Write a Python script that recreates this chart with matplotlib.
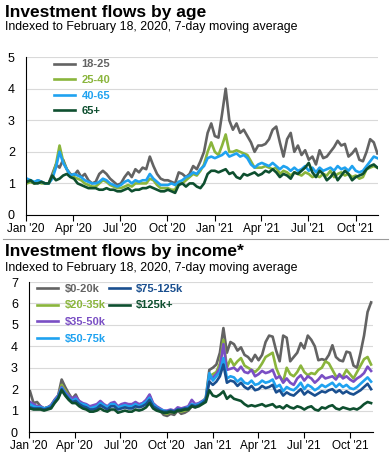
import pandas as pd
import matplotlib
matplotlib.use("Agg")
import matplotlib.pyplot as plt
from matplotlib.lines import Line2D

plt.rcParams['font.family'] = ['Liberation Sans', 'DejaVu Sans']

# weekly points, Jan 3 2020 .. Nov 12 2021
dates = pd.date_range("2020-01-03", periods=98, freq="7D")
tick_dates = pd.date_range("2020-01-01", "2021-10-01", freq="QS")
tick_labels = ["Jan '20", "Apr '20", "Jul '20", "Oct '20",
               "Jan '21", "Apr '21", "Jul '21", "Oct '21"]

# --- by age ---
age_labels = ["18-25", "25-40", "40-65", "65+"]
age_18_25 = [1.1, 1.05, 1.0, 1.1, 1.05, 1.0, 1.0, 1.3, 1.6, 1.5, 1.75, 1.45, 1.3,
             1.25, 1.4, 1.2, 1.3, 1.1, 1.0, 1.05, 1.3, 1.4, 1.3, 1.15, 1.05, 0.95,
             1.0, 1.2, 1.35, 1.2, 1.45, 1.35, 1.5, 1.45, 1.85, 1.55, 1.3, 1.15, 1.1,
             1.1, 1.05, 1.0, 1.35, 1.3, 1.2, 1.3, 1.55, 1.45, 1.7, 2.0, 2.6, 2.9,
             2.5, 2.45, 3.2, 4.0, 3.0, 2.7, 2.9, 2.6, 2.7, 2.5, 2.3, 2.0, 2.2,
             2.2, 2.25, 2.4, 2.7, 2.8, 2.3, 1.85, 2.4, 2.6, 2.0, 2.2, 1.9, 2.05,
             1.75, 1.85, 1.6, 2.05, 1.8, 1.85, 2.0, 2.15, 2.35, 2.2, 2.25, 1.85, 1.95,
             2.1, 1.75, 1.7, 2.0, 2.4, 2.3, 1.95]
age_25_40 = [1.0, 1.05, 1.0, 1.05, 1.0, 1.0, 1.0, 1.2, 1.6, 2.2, 1.7, 1.45, 1.25,
             1.2, 1.15, 1.1, 1.0, 0.95, 0.9, 0.9, 1.0, 1.1, 1.05, 0.95, 0.9, 0.85,
             0.85, 0.9, 0.95, 0.9, 1.0, 1.0, 1.0, 1.0, 1.15, 1.1, 0.95, 0.85, 0.85,
             0.85, 0.8, 0.8, 1.05, 1.0, 1.1, 1.2, 1.3, 1.25, 1.4, 1.6, 2.0, 2.3,
             2.0, 1.9, 2.2, 2.55, 2.0, 2.0, 2.05, 2.0, 1.95, 1.9, 1.7, 1.5, 1.5,
             1.5, 1.55, 1.5, 1.45, 1.5, 1.3, 1.4, 1.35, 1.25, 1.35, 1.3, 1.25, 1.35,
             1.3, 1.2, 1.25, 1.2, 1.3, 1.25, 1.4, 1.2, 1.3, 1.35, 1.25, 1.3, 1.2,
             1.25, 1.15, 1.2, 1.45, 1.5, 1.55, 1.5]
age_40_65 = [1.15, 1.1, 1.05, 1.1, 1.05, 1.0, 1.0, 1.15, 1.5, 2.0, 1.65, 1.45, 1.25,
             1.3, 1.25, 1.2, 1.1, 1.05, 1.0, 1.0, 1.05, 1.15, 1.1, 1.0, 0.95, 0.9,
             0.95, 1.05, 1.1, 1.0, 1.1, 1.05, 1.1, 1.1, 1.3, 1.15, 1.05, 0.95, 0.95,
             0.95, 1.0, 0.95, 1.05, 1.1, 1.2, 1.25, 1.35, 1.3, 1.45, 1.55, 1.8, 1.85,
             1.8, 1.85, 1.9, 2.0, 1.85, 1.9, 1.95, 1.85, 1.9, 1.8, 1.6, 1.5, 1.6,
             1.65, 1.6, 1.55, 1.65, 1.55, 1.45, 1.55, 1.5, 1.4, 1.5, 1.4, 1.45, 1.55,
             1.4, 1.5, 1.35, 1.5, 1.4, 1.45, 1.5, 1.4, 1.55, 1.45, 1.5, 1.4, 1.55,
             1.4, 1.35, 1.4, 1.55, 1.7, 1.85, 1.8]
age_65 = [1.05, 1.1, 1.0, 1.0, 1.05, 1.0, 1.0, 1.25, 1.1, 1.15, 1.25, 1.3, 1.2,
          1.15, 1.0, 0.95, 0.9, 0.85, 0.85, 0.85, 0.8, 0.8, 0.85, 0.8, 0.8, 0.75,
          0.75, 0.8, 0.85, 0.75, 0.8, 0.8, 0.85, 0.85, 0.9, 0.85, 0.8, 0.75, 0.75,
          0.8, 0.75, 0.7, 0.95, 1.0, 0.9, 1.0, 1.0, 0.9, 0.85, 1.0, 1.3, 1.4,
          1.4, 1.35, 1.4, 1.45, 1.3, 1.35, 1.2, 1.15, 1.3, 1.25, 1.3, 1.35, 1.25,
          1.3, 1.4, 1.35, 1.45, 1.35, 1.2, 1.3, 1.25, 1.15, 1.35, 1.3, 1.4, 1.5,
          1.65, 1.35, 1.2, 1.4, 1.3, 1.1, 1.2, 1.35, 1.1, 1.25, 1.4, 1.3, 1.1,
          1.2, 1.25, 1.3, 1.45, 1.55, 1.6, 1.5]
age_colors = ["#636363", "#8ab53c", "#1fa2f0", "#0e4f2f"]

# --- by income ---
inc_labels = ["$0-20k", "$20-35k", "$35-50k", "$50-75k", "$75-125k", "$125k+"]
inc_0_20 = [1.9, 1.35, 1.4, 1.2, 1.1, 1.15, 1.25, 1.5, 1.7, 2.45, 2.1, 1.8, 1.55,
            1.75, 1.4, 1.3, 1.25, 1.1, 1.15, 1.2, 1.35, 1.2, 1.1, 1.3, 1.35, 1.1,
            1.2, 1.3, 1.15, 1.2, 1.35, 1.25, 1.3, 1.45, 1.7, 1.3, 1.15, 1.0, 0.8,
            0.75, 0.85, 0.8, 1.0, 0.85, 0.9, 1.0, 1.2, 1.15, 1.3, 1.4, 1.6, 2.9,
            3.0, 3.15, 3.7, 4.85, 3.7, 4.2, 4.1, 3.8, 3.95, 3.6, 3.5, 3.3, 3.6,
            3.35, 3.6, 4.2, 4.5, 4.45, 3.8, 3.3, 4.5, 4.4, 3.3, 3.5, 3.7, 4.15,
            3.9, 4.5, 4.3, 4.0, 3.35, 3.4, 3.35, 3.6, 4.05, 3.5, 3.35, 3.3, 3.75,
            3.7, 3.1, 3.0, 3.7, 4.5, 5.6, 6.05]
inc_20_35 = [1.25, 1.2, 1.15, 1.15, 1.1, 1.15, 1.2, 1.45, 1.65, 2.2, 1.95, 1.7, 1.5,
             1.6, 1.35, 1.25, 1.2, 1.05, 1.1, 1.15, 1.3, 1.2, 1.1, 1.25, 1.3, 1.1,
             1.2, 1.25, 1.15, 1.15, 1.3, 1.2, 1.25, 1.35, 1.6, 1.25, 1.1, 1.0, 0.9,
             0.85, 0.95, 0.9, 1.05, 0.95, 1.0, 1.05, 1.25, 1.2, 1.3, 1.4, 1.55, 2.6,
             2.7, 2.8, 3.2, 4.3, 3.0, 3.4, 3.1, 3.3, 3.45, 3.1, 3.0, 2.9, 2.8,
             2.95, 3.2, 3.5, 3.6, 3.7, 3.0, 2.6, 2.35, 3.0, 2.7, 2.6, 2.8, 3.1,
             2.8, 2.65, 2.75, 2.7, 2.9, 3.0, 3.3, 3.2, 2.9, 2.6, 2.6, 2.6, 2.9,
             2.7, 2.5, 2.8, 3.1, 3.4, 3.5, 3.15]
inc_35_50 = [1.4, 1.3, 1.2, 1.2, 1.1, 1.15, 1.25, 1.5, 1.7, 2.1, 1.85, 1.7, 1.55,
             1.65, 1.45, 1.35, 1.3, 1.2, 1.25, 1.3, 1.45, 1.3, 1.2, 1.35, 1.4, 1.2,
             1.3, 1.35, 1.3, 1.3, 1.4, 1.3, 1.35, 1.5, 1.75, 1.35, 1.2, 1.1, 1.0,
             1.0, 1.05, 1.0, 1.15, 1.1, 1.15, 1.2, 1.5, 1.3, 1.35, 1.45, 1.5, 2.5,
             2.55, 2.7, 3.0, 4.1, 2.9, 2.95, 3.0, 2.85, 3.05, 2.8, 2.75, 2.9, 2.6,
             2.7, 2.85, 2.75, 2.8, 2.9, 2.5, 2.6, 2.3, 2.5, 2.3, 2.2, 2.5, 2.65,
             2.4, 2.6, 2.5, 2.3, 2.45, 2.65, 2.5, 2.55, 2.6, 2.45, 2.7, 2.5, 2.6,
             2.45, 2.35, 2.5, 2.6, 2.75, 3.05, 2.85]
inc_50_75 = [1.3, 1.2, 1.15, 1.15, 1.1, 1.15, 1.2, 1.45, 1.65, 2.05, 1.8, 1.6, 1.45,
             1.55, 1.35, 1.3, 1.25, 1.1, 1.15, 1.2, 1.35, 1.25, 1.15, 1.3, 1.3, 1.15,
             1.2, 1.25, 1.2, 1.2, 1.3, 1.2, 1.3, 1.4, 1.6, 1.3, 1.15, 1.05, 1.0,
             0.95, 1.0, 0.95, 1.05, 1.05, 1.1, 1.15, 1.3, 1.25, 1.3, 1.4, 1.55, 2.75,
             2.4, 2.6, 2.8, 3.45, 2.5, 2.6, 2.55, 2.35, 2.5, 2.3, 2.25, 2.4, 2.2,
             2.25, 2.4, 2.3, 2.35, 2.45, 2.1, 2.2, 1.9, 2.1, 2.0, 1.95, 2.1, 2.3,
             2.0, 2.2, 2.1, 1.95, 2.05, 2.2, 2.1, 2.2, 2.3, 2.1, 2.25, 2.1, 2.2,
             2.05, 2.0, 2.1, 2.25, 2.4, 2.55, 2.35]
inc_75_125 = [1.15, 1.1, 1.1, 1.1, 1.05, 1.1, 1.15, 1.4, 1.6, 2.0, 1.75, 1.55, 1.4,
              1.45, 1.3, 1.2, 1.15, 1.05, 1.05, 1.1, 1.25, 1.15, 1.05, 1.2, 1.2, 1.05,
              1.1, 1.15, 1.1, 1.1, 1.2, 1.15, 1.2, 1.3, 1.5, 1.2, 1.1, 1.0, 0.95,
              0.95, 1.0, 0.95, 1.05, 1.05, 1.1, 1.1, 1.25, 1.2, 1.25, 1.35, 1.5, 2.35,
              2.2, 2.35, 2.6, 3.15, 2.3, 2.4, 2.35, 2.15, 2.3, 2.1, 2.0, 2.15, 1.95,
              2.0, 2.15, 2.05, 2.1, 2.2, 1.85, 1.95, 1.7, 1.85, 1.75, 1.7, 1.85, 2.0,
              1.75, 1.9, 1.8, 1.7, 1.8, 1.9, 1.85, 1.95, 2.0, 1.85, 1.95, 1.8, 1.9,
              1.8, 1.75, 1.85, 1.95, 2.1, 2.25, 2.0]
inc_125 = [1.1, 1.05, 1.05, 1.05, 1.0, 1.05, 1.1, 1.35, 1.55, 1.95, 1.7, 1.5, 1.35,
           1.35, 1.2, 1.1, 1.05, 0.95, 0.95, 1.0, 1.1, 1.0, 0.95, 1.05, 1.05, 0.9,
           0.95, 1.0, 0.95, 0.95, 1.05, 1.0, 1.05, 1.15, 1.35, 1.1, 1.0, 0.95, 0.9,
           0.9, 0.95, 0.9, 1.0, 1.0, 1.05, 1.05, 1.2, 1.15, 1.2, 1.3, 1.4, 1.95,
           1.7, 1.65, 1.75, 1.9, 1.55, 1.7, 1.55, 1.5, 1.45, 1.3, 1.2, 1.25, 1.2,
           1.25, 1.3, 1.2, 1.25, 1.3, 1.15, 1.2, 1.1, 1.25, 1.15, 1.1, 1.2, 1.15,
           1.05, 1.15, 1.2, 1.05, 1.0, 1.15, 1.1, 1.2, 1.25, 1.1, 1.05, 1.15, 1.1,
           1.05, 1.1, 1.05, 1.15, 1.3, 1.4, 1.35]
inc_colors = ["#636363", "#8ab53c", "#7a4fc4", "#1fa2f0", "#1a4f8f", "#0e4f2f"]

SUB = "Indexed to February 18, 2020, 7-day moving average"
LEG = dict(frameon=False, handlelength=1.9, handletextpad=0.55, borderpad=0,
           borderaxespad=0, prop={"weight": "bold", "size": 8})


def style_axes(ax, ymax, xend):
    ax.set_xlim(pd.Timestamp("2020-01-01"), pd.Timestamp(xend))
    ax.set_ylim(0, ymax)
    ax.set_yticks(range(0, ymax + 1))
    ax.set_xticks(tick_dates)
    ax.set_xticklabels(tick_labels)
    ax.grid(axis="y", color="#d9d9d9", lw=0.8)
    ax.set_axisbelow(True)
    for s in ("top", "right"):
        ax.spines[s].set_visible(False)
    ax.spines["left"].set_color("black")
    ax.spines["bottom"].set_color("black")
    ax.tick_params(axis="y", length=0, labelsize=9, pad=8)
    ax.tick_params(axis="x", direction="out", length=4, labelsize=8.5, pad=2)


def color_texts(leg, colors):
    for t, c in zip(leg.get_texts(), colors):
        t.set_color(c)


fig = plt.figure(figsize=(3.91, 4.59), dpi=100)

# top: by age
ax1 = fig.add_axes([0.0665, 0.5316, 0.900, 0.344])
for vals, lab, c in zip([age_18_25, age_25_40, age_40_65, age_65], age_labels, age_colors):
    ax1.plot(dates, vals, color=c, lw=1.9, label=lab)
style_axes(ax1, 5, "2021-11-13")
leg = ax1.legend(loc="upper left", bbox_to_anchor=(0.08, 0.985), labelspacing=0.5, **LEG)
color_texts(leg, age_colors)

fig.text(0.013, 0.973, "Investment flows by age", fontsize=12.5, weight="bold", va="center")
fig.text(0.013, 0.941, SUB, fontsize=8.9, va="center")

fig.add_artist(Line2D([0.008, 0.992], [0.479, 0.479], color="#9a9a9a", lw=0.8))

# bottom: by income
ax2 = fig.add_axes([0.0742, 0.0588, 0.880, 0.3268])
lines = []
for vals, lab, c in zip([inc_0_20, inc_20_35, inc_35_50, inc_50_75, inc_75_125, inc_125],
                        inc_labels, inc_colors):
    ln, = ax2.plot(dates, vals, color=c, lw=1.9, label=lab)
    lines.append(ln)
style_axes(ax2, 7, "2021-11-16")
leg_a = ax2.legend(lines[:4], inc_labels[:4], loc="upper left", bbox_to_anchor=(0.024, 0.99),
                   labelspacing=0.62, **LEG)
color_texts(leg_a, inc_colors[:4])
ax2.add_artist(leg_a)
leg_b = ax2.legend(lines[4:], inc_labels[4:], loc="upper left", bbox_to_anchor=(0.232, 0.99),
                   labelspacing=0.62, **LEG)
color_texts(leg_b, inc_colors[4:])

fig.text(0.013, 0.451, "Investment flows by income*", fontsize=12.5, weight="bold", va="center")
fig.text(0.013, 0.416, SUB, fontsize=8.9, va="center")

fig.savefig("out.png", dpi=100)
